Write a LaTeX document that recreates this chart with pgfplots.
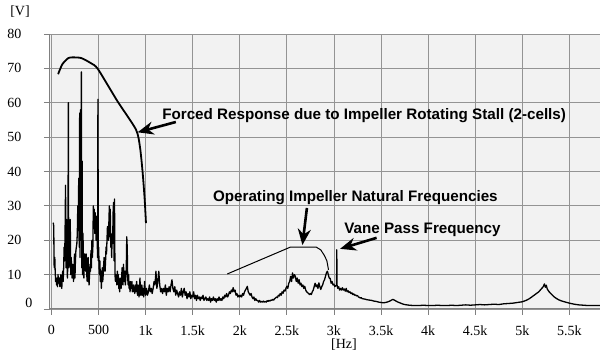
\documentclass[border=0pt]{standalone}
\usepackage{fontspec}
\setmainfont{Liberation Serif}
\newfontfamily\annfont{Liberation Sans}
\usepackage{pgfplots}
\pgfplotsset{compat=1.18}
\usetikzlibrary{arrows.meta}
\begin{document}
\begin{tikzpicture}[x=1pt,y=1pt]
\path[use as bounding box] (-50,-47) rectangle (550,309);
\begin{axis}[
  at={(0,0)}, anchor=south west,
  width=550pt, height=275pt, scale only axis,
  xmin=-15, xmax=5825, ymin=0, ymax=80,
  xtick={0,500,1000,1500,2000,2500,3000,3500,4000,4500,5000,5500},
  xticklabels={0,500,1k,1.5k,2k,2.5k,3k,3.5k,4k,4.5k,5k,5.5k},
  ytick={0,10,20,30,40,50,60,70,80},
  yticklabels={{},10,20,30,40,50,60,70,80},
  /pgf/number format/assume math mode=true,
  axis x line*=bottom, axis y line*=left,
  axis line style={draw=black!50, line width=1pt, -},
  axis background/.style={fill=black!5},
  grid=major, grid style={draw=black!42, line width=0.9pt},
  tick align=outside, major tick length=6pt,
  tick style={draw=black!50, line width=0.9pt},
  ticklabel style={font=\fontsize{14}{16}\selectfont},
  yticklabel style={xshift=-19pt},
  xticklabel style={yshift=-7pt},
  clip=false,
]
\addplot[black, line width=1.3pt, line join=round] coordinates {
(15,25) (20,25) (25,24) (28,13) (32,12) (36,15) (40,11) (45,8) (50,9) (55,7) (60,9) (65,6.5) (70,10) (75,8) (80,7.5) (85,9) (90,6.5) (95,8) (100,10) (105,7) (110,6) (115,9) (120,11) (125,8) (130,12) (135,18) (140,14) (145,22) (150,36) (153,20) (156,12) (160,26) (165,15) (170,9) (175,14) (180,60) (183,20) (186,12) (190,25) (195,18) (200,26) (205,10) (210,15) (215,12) (220,9) (225,13) (230,11) (235,8) (240,12) (245,16) (250,9) (255,14) (260,17) (265,18) (270,19) (275,22) (280,30) (285,25) (290,38) (295,18) (300,57) (303,15) (306,42) (310,58) (314,20) (318,69) (322,12) (326,43) (330,10) (335,22) (340,15) (345,9) (350,14) (355,16) (360,12) (365,11) (370,16) (375,10) (380,8) (385,13) (390,15) (395,9) (400,7) (405,10) (410,13) (415,11) (420,17) (425,12) (430,20) (435,15) (440,18) (445,30) (450,25) (455,29) (460,22) (465,28) (470,24) (475,20) (480,27) (485,22) (490,15) (494,61) (498,14) (502,18) (506,12) (510,10) (515,14) (520,8) (525,11) (530,6) (535,9) (540,12) (545,8) (550,10) (555,13) (560,15) (565,12) (570,11) (575,14) (580,18) (585,16) (590,20) (595,24) (600,23) (605,20) (610,25) (615,30) (620,21) (625,29) (630,18) (635,20) (640,15) (645,22) (650,19) (655,28) (660,31) (665,14) (670,32) (675,10) (680,8) (685,10) (690,9) (695,7) (700,11) (705,8) (710,10) (715,6) (720,7) (725,5) (730,9) (735,7) (740,6) (745,8) (750,12) (755,9) (760,7) (765,13) (770,10) (775,8) (780,11) (785,7) (790,9) (795,12) (800,21) (805,18) (810,9) (815,7) (820,10) (825,6) (830,7) (835,5) (840,8) (845,7) (850,6) (855,8) (860,5) (865,6) (870,7) (875,5) (880,6) (885,4.5) (890,7) (895,5) (900,6) (905,8) (910,5) (915,4) (920,7) (925,6) (930,3.5) (935,5) (940,9) (945,6) (950,4) (955,5) (960,7) (965,4) (970,6) (975,5) (980,3.5) (985,6) (990,8) (995,5) (1000,4)
(1010,6) (1020,4) (1030,5) (1040,7) (1050,5) (1060,6) (1070,4.5) (1080,6) (1090,8) (1100,7) (1110,11) (1120,6) (1130,8) (1140,11) (1150,7) (1160,5) (1170,6) (1180,4.5) (1190,6) (1200,5) (1210,7) (1220,4) (1230,6) (1240,5) (1250,6.5) (1260,5) (1270,7) (1280,8.5) (1290,6) (1300,5) (1310,6.5) (1320,4) (1330,5.5) (1340,4.5) (1350,3.5) (1360,5) (1370,4) (1380,6) (1390,3.5) (1400,5) (1410,6) (1420,4) (1430,5) (1440,3) (1450,4.5) (1460,3.5) (1470,5) (1480,3) (1490,4) (1500,3.5) (1510,5) (1520,3) (1530,4) (1540,2.5) (1550,4) (1560,3) (1570,3.5) (1580,2.5) (1590,3.5) (1600,3) (1610,4) (1620,2.5) (1630,3) (1640,3.5) (1650,2.5) (1660,3) (1670,2.5) (1680,3.5) (1690,2) (1700,3) (1710,2.5) (1720,3.5) (1730,2.5) (1740,3) (1750,2) (1760,3) (1770,2.5) (1780,3.5) (1790,2.5) (1800,3) (1810,2.5) (1820,3.5) (1830,3) (1840,4) (1850,3.5) (1860,4.5) (1870,3.5) (1880,4) (1890,5) (1900,4.5) (1910,5.5) (1920,5) (1930,6.2) (1940,5) (1950,5.5) (1960,4) (1970,4.5) (1980,3.5) (1990,4) (2000,3.5)
(2010,4) (2020,3.5) (2030,4.5) (2040,4) (2050,5) (2060,5.5) (2070,6) (2080,6.6) (2090,5) (2100,4.5) (2110,4) (2120,4.5) (2130,3.5) (2140,3) (2150,3.5) (2160,2.5) (2170,3) (2180,2.5) (2190,2.5) (2200,2) (2210,2.5) (2220,2) (2230,2.2) (2240,2) (2250,2.3) (2260,2) (2270,2.2) (2280,2) (2290,2.4) (2300,2.2) (2310,2.5) (2320,2.3) (2330,2.6) (2340,2.5) (2350,2.8) (2360,2.6) (2370,3) (2380,3.2) (2390,3.5) (2400,3.3) (2410,4) (2420,3.8) (2430,4.5) (2440,4) (2450,5) (2460,4.6) (2470,5.5) (2480,5.2) (2490,6) (2500,6.6) (2510,6) (2520,7.5) (2530,8) (2540,9.5) (2550,8) (2560,10.5) (2570,9) (2580,10) (2590,9.5) (2600,8) (2610,9) (2620,7.5) (2630,8.5) (2640,7) (2650,7.5) (2660,6.5) (2670,7) (2680,6) (2690,6.6) (2700,5.5) (2710,5) (2720,4.8) (2730,4.5) (2740,4.2) (2750,4.5) (2760,4.2) (2770,5) (2780,5.5) (2790,6.5) (2800,7.5) (2810,6.5) (2820,7) (2830,6) (2840,7.6) (2850,6.5) (2860,5.7) (2870,6.5) (2880,7) (2890,8) (2900,8.5) (2910,9.5) (2920,10.5) (2930,11) (2940,10) (2950,9) (2960,8.9) (2970,7.5) (2980,8) (2990,7) (3000,7.2) (3010,6.5) (3020,6.8) (3028,7) (3030,17.2) (3033,7) (3040,6) (3050,6.5) (3060,5.5) (3070,6) (3080,5.5) (3090,6.2) (3100,5.5) (3110,5.8) (3120,5.2) (3130,6) (3140,5) (3150,5.3) (3160,4.8) (3170,5) (3180,4.5) (3190,4.7) (3200,4.2) (3210,4.4) (3220,4) (3230,4.1) (3240,3.8) (3250,3.9) (3260,3.5) (3270,3.4) (3280,3.2) (3290,3.3) (3300,3)
(3325,2.9) (3350,2.7) (3375,2.6) (3400,2.5) (3425,2.3) (3450,2.2) (3475,2.0) (3500,1.9) (3525,1.8) (3550,1.9) (3575,2.1) (3600,2.4) (3625,2.8) (3640,2.6) (3660,2.3) (3680,2.0) (3700,1.8) (3725,1.5) (3750,1.3) (3775,1.2) (3800,1.1) (3850,1.0) (3900,1.0) (3950,1.1) (4000,1.0) (4050,1.0) (4100,1.1) (4150,1.0) (4200,1.0) (4250,1.1) (4300,1.0) (4350,1.1) (4400,1.2) (4450,1.1) (4500,1.2) (4550,1.3) (4600,1.2) (4650,1.3) (4700,1.4) (4750,1.3) (4800,1.5) (4850,1.6) (4900,1.7) (4950,1.9) (5000,2.1) (5040,2.5) (5075,3.0) (5100,3.5) (5125,4.0) (5150,4.5) (5175,5.0) (5200,5.8) (5220,6.4) (5235,7.3) (5245,6.3) (5255,6.9) (5265,5.8) (5285,5.0) (5310,4.3) (5335,3.6) (5360,3.1) (5385,2.7) (5410,2.4) (5435,2.2) (5460,2.0) (5500,1.7) (5550,1.4) (5600,1.2) (5650,1.1) (5700,1.0) (5750,1.0) (5800,1.0) (5825,1.0)
};
% forced response envelope
\addplot[black, line width=1.8pt, smooth, tension=0.4] coordinates {
(71,68.3) (116,71.2) (180,73) (229,73.2) (317,73) (420,71.5) (494,69.8) (700,60.5) (898,52.2) (941,47) (969,39.6) (990,32) (1004,25)
};
% natural frequencies bracket
\addplot[black, line width=1pt] coordinates {
(1868,10.2) (2537,18.0) (2812,18.0) (2860,17.2) (2900,15.5) (2925,14.0) (2935,12.5) (2942,11.4)
};
\draw[line width=2.6pt, -{Stealth[length=16pt,width=13pt]}] (axis cs:1321,54.4) -- (axis cs:915,51.4);
\draw[line width=2.6pt, -{Stealth[length=16pt,width=13pt]}] (axis cs:2713,29.4) -- (axis cs:2665,18.6);
\draw[line width=2.6pt, -{Stealth[length=16pt,width=13pt]}] (axis cs:3453,20.7) -- (axis cs:3065,17.5);
\node[anchor=west, inner sep=0pt, font=\annfont\bfseries\fontsize{15.2}{17}\selectfont] at (axis cs:1175,56.4) {Forced Response due to Impeller Rotating Stall (2-cells)};
\node[anchor=west, inner sep=0pt, font=\annfont\bfseries\fontsize{15.2}{17}\selectfont] at (axis cs:1714,32.3) {Operating Impeller Natural Frequencies};
\node[anchor=west, inner sep=0pt, font=\annfont\bfseries\fontsize{15.2}{17}\selectfont] at (axis cs:3108,23) {Vane Pass Frequency};
\end{axis}
\node[font=\fontsize{14}{16}\selectfont] at (-21,6) {0};
\node[font=\fontsize{14}{16}\selectfont] at (-30,297) {[V]};
\node[font=\fontsize{14}{16}\selectfont] at (294,-36) {[Hz]};
\end{tikzpicture}
\end{document}
